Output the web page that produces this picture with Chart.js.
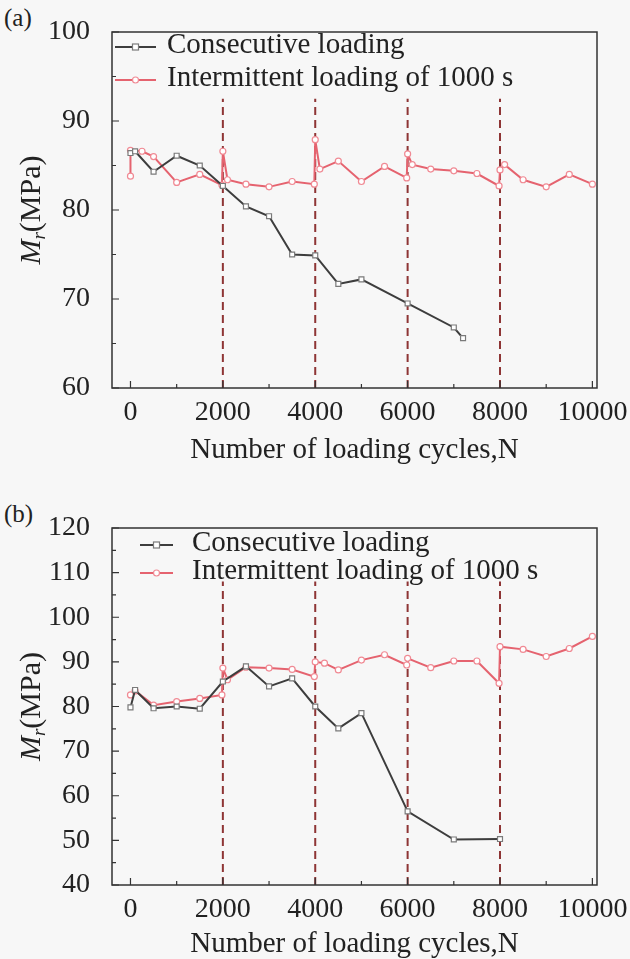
<!DOCTYPE html>
<html lang="en">
<head>
<meta charset="UTF-8">
<title>Mr vs loading cycles</title>
<script src="https://cdn.jsdelivr.net/npm/chart.js@4.4.1/dist/chart.umd.min.js"></script>
<style>
  body { margin: 0; background: #f7f7f7; width: 630px; height: 959px; position: relative; overflow: hidden; font-family: "Liberation Serif", serif; }
  canvas { position: absolute; left: 0; }
  #chartA { top: 0; }
  #chartB { top: 496px; }
  .tag { position: absolute; left: 4px; font-size: 25px; color: #222; }
</style>
</head>
<body>
<div class="tag" style="top:4px">(a)</div>
<div class="tag" style="top:500px">(b)</div>
<canvas id="chartA" width="630" height="496"></canvas>
<canvas id="chartB" width="630" height="463"></canvas>
<script>
// panel (a)
const cyclesConsecA = [0, 100, 500, 1000, 1500, 2000, 2500, 3000, 3500, 4000, 4500, 5000, 6000, 7000, 7200];
const modulusConsecA = [86.4, 86.6, 84.3, 86.1, 85.0, 82.7, 80.4, 79.3, 75.0, 74.9, 71.7, 72.2, 69.5, 66.8, 65.6];
const cyclesInterA = [0, 0, 250, 500, 1000, 1500, 1980, 2000, 2100, 2500, 3000, 3500, 3980, 4000, 4100, 4500, 5000, 5500, 5980, 6000, 6100, 6500, 7000, 7500, 7980, 8000, 8100, 8500, 9000, 9500, 10000];
const modulusInterA = [83.8, 86.7, 86.6, 86.0, 83.1, 84.0, 82.8, 86.6, 83.4, 82.9, 82.6, 83.2, 82.9, 87.9, 84.6, 85.5, 83.2, 84.9, 83.6, 86.3, 85.1, 84.6, 84.4, 84.1, 82.7, 84.5, 85.1, 83.4, 82.6, 84.0, 82.9];

// panel (b)
const cyclesConsecB = [0, 100, 500, 1000, 1500, 2000, 2500, 3000, 3500, 4000, 4500, 5000, 6000, 7000, 8000];
const modulusConsecB = [79.8, 83.7, 79.6, 80.0, 79.5, 85.6, 89.0, 84.5, 86.3, 80.0, 75.1, 78.5, 56.5, 50.2, 50.3];
const cyclesInterB = [0, 100, 500, 1000, 1500, 1980, 2000, 2100, 2500, 3000, 3500, 3980, 4000, 4200, 4500, 5000, 5500, 5980, 6000, 6500, 7000, 7500, 7980, 8000, 8500, 9000, 9500, 10000];
const modulusInterB = [82.6, 83.5, 80.3, 81.1, 81.8, 82.6, 88.6, 86.0, 88.8, 88.6, 88.3, 86.7, 90.0, 89.7, 88.2, 90.4, 91.6, 89.3, 90.8, 88.7, 90.2, 90.2, 85.2, 93.4, 92.8, 91.2, 93.0, 95.7];

// rest periods (dashed lines) and ticks
const restCycles = [2000, 4000, 6000, 8000];
const xTicks = [0, 2000, 4000, 6000, 8000, 10000];
const yTicksA = [60, 70, 80, 90, 100];
const yTicksB = [40, 50, 60, 70, 80, 90, 100, 110, 120];
const seriesNames = ['Consecutive loading', 'Intermittent loading of 1000 s'];

const serif = '"Liberation Serif", "Times New Roman", serif';

function pts(xs, ys) {
  return xs.map((x, i) => ({ x: x, y: ys[i] }));
}
function restLines(lo, hi) {
  const out = [];
  restCycles.forEach(c => { out.push({ x: c, y: lo }, { x: c, y: hi }, { x: c, y: null }); });
  return out;
}

// box frame + inward ticks
const framePlugin = {
  id: 'frame',
  afterDatasetsDraw(chart) {
    const { ctx, chartArea: a, scales: { x, y } } = chart;
    ctx.save();
    ctx.setLineDash([]);
    ctx.strokeStyle = '#333';
    ctx.lineWidth = 1.5;
    ctx.strokeRect(a.left, a.top, a.right - a.left, a.bottom - a.top);
    ctx.lineWidth = 1.2;
    ctx.beginPath();
    for (let v = 0; v <= 10000; v += 1000) {
      const px = x.getPixelForValue(v);
      const len = v % 2000 === 0 ? 7 : 4;
      ctx.moveTo(px, a.bottom); ctx.lineTo(px, a.bottom - len);
    }
    for (let v = y.min; v <= y.max; v += 5) {
      const py = y.getPixelForValue(v);
      const len = v % 10 === 0 ? 7 : 4;
      ctx.moveTo(a.left, py); ctx.lineTo(a.left + len, py);
    }
    ctx.stroke();
    ctx.restore();
  }
};

// legend drawn inside the frame, line + marker sample
const keyPlugin = {
  id: 'keyBox',
  afterDatasetsDraw(chart, args, o) {
    const ctx = chart.ctx;
    ctx.save();
    chart.data.datasets.slice(1).forEach((ds, i) => {
      const y = o.rows[i];
      const ly = y + 2;
      ctx.setLineDash([]);
      ctx.strokeStyle = ds.borderColor;
      ctx.lineWidth = 2;
      ctx.beginPath(); ctx.moveTo(o.x0, ly); ctx.lineTo(o.x1, ly); ctx.stroke();
      const mx = (o.x0 + o.x1) / 2;
      ctx.fillStyle = '#fff';
      ctx.strokeStyle = ds.pointBorderColor;
      ctx.lineWidth = 1.2;
      if (ds.pointStyle === 'rect') {
        ctx.fillRect(mx - 3, ly - 3, 6, 6); ctx.strokeRect(mx - 3, ly - 3, 6, 6);
      } else {
        ctx.beginPath(); ctx.arc(mx, ly, 3, 0, Math.PI * 2); ctx.fill(); ctx.stroke();
      }
      ctx.fillStyle = '#222';
      ctx.font = '29px ' + serif;
      ctx.textBaseline = 'middle';
      ctx.fillText(ds.label, o.tx, y);
    });
    ctx.restore();
  }
};

// y title with italic M and subscript r
const yTitlePlugin = {
  id: 'yTitle',
  afterDraw(chart, args, o) {
    const { ctx, chartArea: a } = chart;
    ctx.save();
    ctx.translate(o.x, (a.top + a.bottom) / 2);
    ctx.rotate(-Math.PI / 2);
    ctx.fillStyle = '#222';
    ctx.textBaseline = 'middle';
    const f1 = 'italic 30px ' + serif, f2 = 'italic 19px ' + serif, f3 = '30px ' + serif;
    ctx.font = f1; const w1 = ctx.measureText('M').width;
    ctx.font = f2; const w2 = ctx.measureText('r').width;
    ctx.font = f3; const w3 = ctx.measureText('(MPa)').width;
    let sx = -(w1 + w2 + w3) / 2;
    ctx.font = f1; ctx.fillText('M', sx, 0); sx += w1;
    ctx.font = f2; ctx.fillText('r', sx, 8); sx += w2;
    ctx.font = f3; ctx.fillText('(MPa)', sx, 0);
    ctx.restore();
  }
};

function makeChart(id, c) {
  return new Chart(document.getElementById(id), {
    type: 'line',
    data: {
      datasets: [
        { label: 'rest', data: restLines(c.ymin, c.restTop), borderColor: '#8e3535', borderWidth: 2, borderDash: [8, 5],
          pointRadius: 0, spanGaps: false, order: 3 },
        { label: seriesNames[0], data: pts(c.cx, c.cy), borderColor: '#3d3d3d', borderWidth: 2,
          pointStyle: 'rect', pointRadius: 3.5, pointBackgroundColor: '#fff', pointBorderColor: '#7a7a7a', pointBorderWidth: 1.2, order: 1 },
        { label: seriesNames[1], data: pts(c.ix, c.iy), borderColor: '#e5636f', borderWidth: 2,
          pointStyle: 'circle', pointRadius: 3, pointBackgroundColor: '#fff', pointBorderColor: '#f08a94', pointBorderWidth: 1.2, order: 2 }
      ]
    },
    options: {
      responsive: false,
      animation: false,
      layout: { padding: { left: 0, right: 33, top: 32, bottom: 0 } },
      plugins: {
        legend: { display: false },
        tooltip: { enabled: false },
        keyBox: c.key,
        yTitle: { x: 32 }
      },
      scales: {
        x: {
          type: 'linear', min: -400, max: 10100,
          afterBuildTicks: s => { s.ticks = xTicks.map(v => ({ value: v })); },
          afterFit: s => { s.height = c.xh; },
          grid: { display: false }, border: { display: false },
          ticks: { font: { family: serif, size: 28 }, color: '#222', padding: 0, maxRotation: 0, autoSkip: false,
                   callback: v => String(v) },
          title: { display: true, text: 'Number of loading cycles,N', font: { family: serif, size: 29, lineHeight: 1 }, color: '#222',
                   padding: { top: 0, bottom: c.tpb } }
        },
        y: {
          min: c.ymin, max: c.ymax,
          afterBuildTicks: s => { s.ticks = c.yt.map(v => ({ value: v })); },
          afterFit: s => { s.width = 112; },
          grid: { display: false }, border: { display: false },
          ticks: { font: { family: serif, size: 28 }, color: '#222', padding: 14, callback: v => String(v) }
        }
      }
    },
    plugins: [framePlugin, keyPlugin, yTitlePlugin]
  });
}

makeChart('chartA', {
  cx: cyclesConsecA, cy: modulusConsecA, ix: cyclesInterA, iy: modulusInterA,
  ymin: 60, ymax: 100, yt: yTicksA, restTop: 92.5, xh: 108, tpb: 31,
  key: { x0: 115, x1: 156, tx: 167, rows: [45, 78] }
});
makeChart('chartB', {
  cx: cyclesConsecB, cy: modulusConsecB, ix: cyclesInterB, iy: modulusInterB,
  ymin: 40, ymax: 120, yt: yTicksB, restTop: 108, xh: 74, tpb: 0,
  key: { x0: 140, x1: 173, tx: 192, rows: [47, 75] }
});
</script>
</body>
</html>
